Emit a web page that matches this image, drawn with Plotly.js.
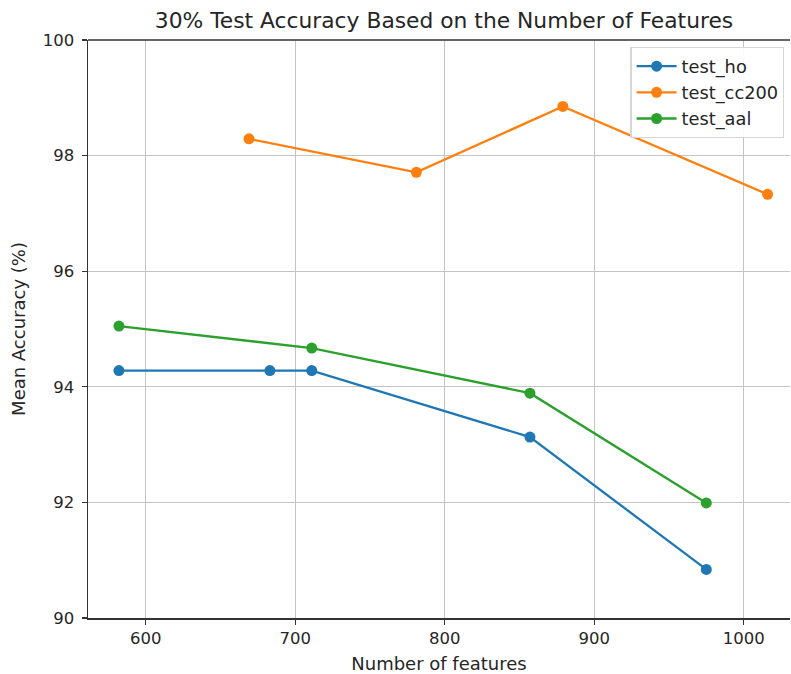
<!DOCTYPE html>
<html>
<head>
<meta charset="utf-8">
<script src="https://cdn.plot.ly/plotly-3.0.1.min.js"></script>
<style>html,body{margin:0;padding:0;background:#fff;overflow:hidden}</style>
</head>
<body>
<div id="chart" style="width:791px;height:674px"></div>
<script>
const hoX = [582, 683, 711, 857, 975];
const hoY = [94.28, 94.28, 94.28, 93.13, 90.84];
const cc200X = [669, 781, 879, 1016];
const cc200Y = [98.29, 97.71, 98.85, 97.33];
const aalX = [582, 711, 857, 975];
const aalY = [95.05, 94.67, 93.89, 91.99];
const seriesNames = ['test_ho', 'test_cc200', 'test_aal'];
const colors = ['#1f77b4', '#ff7f0e', '#2ca02c'];

const xs = [hoX, cc200X, aalX];
const ys = [hoY, cc200Y, aalY];
const traces = seriesNames.map((n, i) => ({
  x: xs[i], y: ys[i], name: n, type: 'scatter', mode: 'lines+markers',
  line: {color: colors[i], width: 2.3},
  marker: {color: colors[i], size: 11}
}));

const ff = 'DejaVu Sans, sans-serif';
const txt = '#262626';
const layout = {
  width: 791, height: 674,
  margin: {l: 88, r: 1, t: 40, b: 56},
  paper_bgcolor: '#fff', plot_bgcolor: '#fff',
  font: {family: ff, color: txt, size: 17},
  title: {text: '30% Test Accuracy Based on the Number of Features',
          font: {family: ff, size: 21.8, color: txt},
          x: 0.5613, xanchor: 'center', y: 0.97, yanchor: 'middle'},
  xaxis: {
    range: [561.3, 1031], tickvals: [600, 700, 800, 900, 1000],
    showgrid: true, gridcolor: '#c4c4c4', gridwidth: 1.2,
    zeroline: false, showline: true, linecolor: '#333', linewidth: 1.5,
    ticks: 'outside', ticklen: 5, tickcolor: '#333', tickwidth: 1.2,
    tickfont: {family: ff, size: 16.5, color: txt},
    automargin: false,
    title: {text: 'Number of features', font: {family: ff, size: 18, color: txt}, standoff: 12}
  },
  yaxis: {
    range: [90, 100], tickvals: [90, 92, 94, 96, 98, 100],
    showgrid: true, gridcolor: '#c4c4c4', gridwidth: 1.2,
    zeroline: false, showline: true, linecolor: '#333', linewidth: 1.5,
    ticks: 'outside', ticklen: 5, tickcolor: '#333', tickwidth: 1.2,
    tickfont: {family: ff, size: 16.5, color: txt},
    ticklabelstandoff: 4,
    automargin: false,
    title: {text: 'Mean Accuracy (%)', font: {family: ff, size: 18, color: txt}, standoff: 12}
  },
  shapes: [{type: 'line', xref: 'paper', yref: 'paper', x0: 0, x1: 1, y0: 1, y1: 1,
            line: {color: '#333', width: 1.5}}],
  legend: {x: 0.992, xanchor: 'right', y: 0.988, yanchor: 'top',
           bgcolor: 'rgba(255,255,255,0.9)', bordercolor: '#d6d6d6', borderwidth: 1.2,
           itemwidth: 40, tracegroupgap: 0,
           font: {family: ff, size: 17.8, color: txt}},
  showlegend: true
};
Plotly.newPlot('chart', traces, layout, {staticPlot: true, displayModeBar: false});
</script>
</body>
</html>
